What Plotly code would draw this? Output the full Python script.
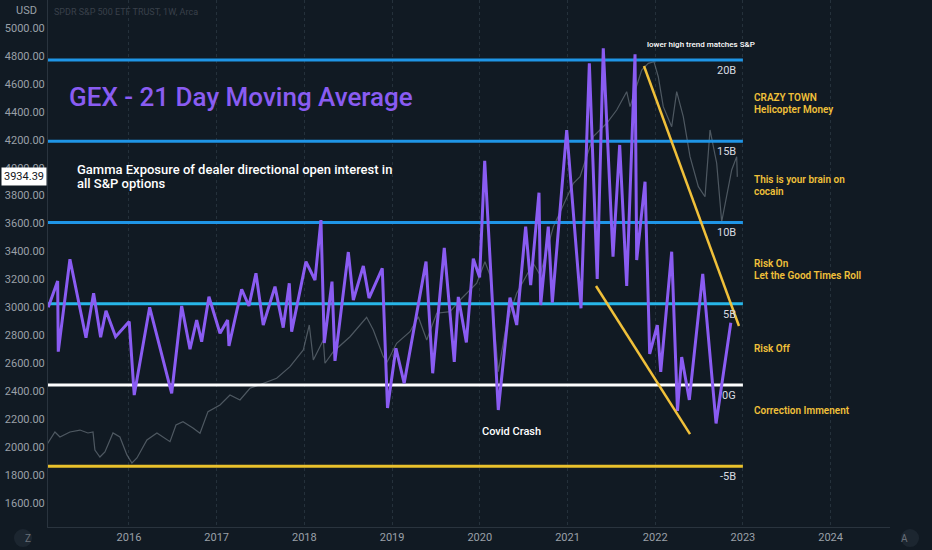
import plotly.graph_objects as go

# purple GEX line, 21 day moving average, in billions (decimal years on x)
gex_years = [2015.080, 2015.187, 2015.194, 2015.327, 2015.510, 2015.597, 2015.677, 2015.738, 2015.848, 2016.003,
             2016.060, 2016.236, 2016.487, 2016.601, 2016.696, 2016.772, 2016.829, 2016.912, 2017.038, 2017.125,
             2017.140, 2017.285, 2017.368, 2017.448, 2017.531, 2017.665, 2017.759, 2017.828, 2017.855, 2018.018,
             2018.121, 2018.189, 2018.227, 2018.315, 2018.349, 2018.501, 2018.558, 2018.672, 2018.737, 2018.888,
             2018.948, 2019.044, 2019.138, 2019.387, 2019.463, 2019.595, 2019.709, 2019.755, 2019.847, 2019.926,
             2019.998, 2020.056, 2020.211, 2020.344, 2020.421, 2020.523, 2020.580, 2020.675, 2020.694, 2020.781,
             2020.827, 2020.991, 2021.154, 2021.249, 2021.339, 2021.408, 2021.519, 2021.595, 2021.675, 2021.770,
             2021.789, 2021.884, 2021.937, 2022.024, 2022.063, 2022.188, 2022.254, 2022.302, 2022.389, 2022.542,
             2022.694, 2022.862]
gex_bn = [4.78, 6.40, 2.05, 7.74, 2.91, 5.64, 2.94, 4.57, 2.97, 3.90,
          -0.62, 4.78, -0.51, 4.86, 2.20, 4.00, 2.66, 5.43, 3.18, 4.00,
          2.40, 5.89, 4.86, 6.87, 3.69, 6.05, 3.53, 6.26, 3.28, 7.59,
          6.46, 10.15, 2.58, 6.36, 1.48, 8.18, 5.23, 7.32, 5.35, 7.18,
          -1.42, 2.26, 0.10, 7.60, 0.72, 8.43, 1.42, 5.42, 2.62, 7.77,
          6.62, 13.80, -1.54, 5.38, 3.69, 9.74, 6.15, 11.83, 4.92, 9.74,
          5.06, 15.69, 4.72, 19.80, 6.52, 20.72, 7.90, 14.77, 6.09, 20.35,
          7.69, 12.51, 1.91, 3.69, 0.80, 8.20, -1.60, 1.72, -0.92, 6.83,
          -2.37, 3.83]

# grey S&P price line (left scale)
spx_years = [2015.073, 2015.156, 2015.213, 2015.327, 2015.441, 2015.532, 2015.590, 2015.612, 2015.669, 2015.726,
             2015.818, 2015.897, 2015.977, 2016.034, 2016.091, 2016.205, 2016.319, 2016.433, 2016.468, 2016.536,
             2016.616, 2016.730, 2016.810, 2016.901, 2017.038, 2017.152, 2017.266, 2017.380, 2017.570, 2017.684,
             2017.836, 2017.988, 2018.056, 2018.102, 2018.216, 2018.235, 2018.330, 2018.520, 2018.710, 2018.786,
             2018.900, 2018.945, 2019.052, 2019.204, 2019.299, 2019.395, 2019.509, 2019.661, 2019.775, 2019.965,
             2020.059, 2020.116, 2020.211, 2020.307, 2020.421, 2020.535, 2020.610, 2020.687, 2020.839, 2021.067,
             2021.143, 2021.294, 2021.447, 2021.561, 2021.675, 2021.713, 2021.846, 2021.921, 2021.986, 2022.035,
             2022.092, 2022.188, 2022.245, 2022.320, 2022.397, 2022.492, 2022.568, 2022.625, 2022.701, 2022.758,
             2022.815, 2022.872, 2022.929, 2022.936]
spx_close = [2027, 2108, 2072, 2108, 2122, 2101, 2108, 1979, 1929, 1965,
             2101, 2072, 1944, 1886, 1922, 2051, 2101, 2051, 2039, 2158,
             2182, 2137, 2099, 2254, 2301, 2373, 2337, 2421, 2469, 2493,
             2576, 2695, 2874, 2624, 2767, 2600, 2683, 2790, 2929, 2838,
             2647, 2611, 2743, 2826, 2933, 2767, 2958, 2969, 3053, 3173,
             3327, 3232, 2540, 2886, 3101, 3232, 3316, 3232, 3578, 3888,
             3936, 4222, 4318, 4413, 4544, 4437, 4699, 4747, 4759, 4651,
             4437, 4293, 4544, 4365, 4079, 3864, 3792, 4270, 4032, 3613,
             3792, 3984, 4079, 3934.39]
last_price = 3934.39

# GEX levels drawn as horizontal rays
levels = [20, 15, 10, 5, 0, -5]
level_labels = ["20B", "15B", "10B", "5B", "0G", "-5B"]
level_colors = ["#1f95e6", "#1f95e6", "#1f95e6", "#27b6e8", "#ffffff", "#e9c12c"]
level_end = 2023.0

# yellow trend lines
trend_hi_x = [2021.872, 2022.955]
trend_hi_y = [19.63, 3.63]
trend_lo_x = [2021.325, 2022.397]
trend_lo_y = [6.09, -3.02]

# zone notes on the right, one entry per text line
zone_lines = ["CRAZY TOWN", "Helicopter Money", "This is your brain on", "cocain",
              "Risk On", "Let the Good Times Roll", "Risk Off", "Correction Immenent"]
zone_line_y = [17.72, 16.98, 12.62, 11.88, 7.45, 6.71, 2.22, -1.6]

subtitle_lines = ["Gamma Exposure of dealer directional open interest in", "all S&P options"]
subtitle_y = [13.29, 12.37]

x_range = [2015.077, 2024.677]
bg = "#111a23"
grid = "#25313b"
tick_grey = "#9aa0a8"
purple = "#8a5cf2"
yellow = "#f0c03a"

fig = go.Figure()

fig.add_trace(go.Scatter(x=spx_years, y=spx_close, mode="lines", yaxis="y",
                         line=dict(color="rgba(130,140,150,0.55)", width=1.2),
                         hoverinfo="skip", showlegend=False))

for lvl, col in zip(levels, level_colors):
    fig.add_trace(go.Scatter(x=[x_range[0], level_end], y=[lvl, lvl], mode="lines", yaxis="y3",
                             line=dict(color=col, width=3), hoverinfo="skip", showlegend=False))

fig.add_trace(go.Scatter(x=gex_years, y=gex_bn, mode="lines", yaxis="y3",
                         line=dict(color=purple, width=3), showlegend=False))

for tx, ty in [(trend_hi_x, trend_hi_y), (trend_lo_x, trend_lo_y)]:
    fig.add_trace(go.Scatter(x=tx, y=ty, mode="lines", yaxis="y3",
                             line=dict(color=yellow, width=2.5), hoverinfo="skip", showlegend=False))

ann = []
for lvl, lab in zip(levels, level_labels):
    ann.append(dict(x=level_end - 0.06, y=lvl, xref="x", yref="y3", text=lab, showarrow=False,
                    xanchor="right", yanchor="top", yshift=-2,
                    font=dict(family="Roboto", size=11, color="#d8dbe0")))

for txt, ty in zip(zone_lines, zone_line_y):
    ann.append(dict(x=2023.12, y=ty, xref="x", yref="y3", text=txt, showarrow=False,
                    xanchor="left", yanchor="middle", align="left", borderpad=0,
                    font=dict(family="Roboto", size=10, color=yellow, weight=600)))

ann.append(dict(x=2015.29, y=17.7, xref="x", yref="y3", text="GEX - 21 Day Moving Average",
                showarrow=False, xanchor="left", yanchor="middle",
                font=dict(family="Roboto", size=26, color=purple, weight=500)))
for txt, ty in zip(subtitle_lines, subtitle_y):
    ann.append(dict(x=2015.40, y=ty, xref="x", yref="y3", text=txt,
                    showarrow=False, xanchor="left", yanchor="middle", align="left", borderpad=0,
                    font=dict(family="Roboto", size=13, color="#ffffff", weight=500)))
ann.append(dict(x=2020.356, y=-2.89, xref="x", yref="y3", text="Covid Crash", showarrow=False,
                font=dict(family="Roboto", size=11, color="#ffffff", weight=500)))
ann.append(dict(x=2022.522, y=20.98, xref="x", yref="y3", text="lower high trend matches S&P",
                showarrow=False, font=dict(family="Roboto", size=8, color="#ffffff", weight=500)))

# chrome: currency, symbol, last price, scale buttons
ann.append(dict(x=-0.04, y=0.981, xref="paper", yref="paper", text="USD", showarrow=False,
                yanchor="middle", font=dict(family="Roboto", size=11, color=tick_grey)))
ann.append(dict(x=0.005, y=0.977, xref="paper", yref="paper", text="SPDR S&P 500 ETF TRUST, 1W, Arca",
                showarrow=False, xanchor="left", yanchor="middle",
                font=dict(family="Roboto", size=9, color="#39404a")))
ann.append(dict(x=-0.001, y=last_price, xref="paper", yref="y", text=f"{last_price:.2f}", showarrow=False,
                xanchor="right", bgcolor="#ffffff", borderpad=2,
                font=dict(family="Roboto", size=11, color="#131722")))
ann.append(dict(x=-0.0297, y=-0.0209, xref="paper", yref="paper", text="Z", showarrow=False,
                yanchor="middle", font=dict(family="Roboto", size=10, color="#6a7079")))
ann.append(dict(x=1.0238, y=-0.0209, xref="paper", yref="paper", text="A", showarrow=False,
                yanchor="middle", font=dict(family="Roboto", size=10, color="#6a7079")))

shapes = [
    dict(type="circle", xref="paper", yref="paper", x0=-0.0404, x1=-0.019, y0=-0.038, y1=-0.004,
         fillcolor="#1c2630", line=dict(width=0), layer="below"),
    dict(type="circle", xref="paper", yref="paper", x0=1.013, x1=1.0345, y0=-0.038, y1=-0.004,
         fillcolor="#1c2630", line=dict(width=0), layer="below"),
]

fig.update_layout(
    width=932, height=550,
    margin=dict(l=48, r=42, t=0, b=23),
    paper_bgcolor=bg, plot_bgcolor=bg,
    font=dict(family="Roboto", color=tick_grey),
    showlegend=False,
    annotations=ann,
    shapes=shapes,
    xaxis=dict(range=x_range, tickmode="linear", tick0=2016, dtick=1, tickformat="d",
               showgrid=True, griddash="dot", gridcolor=grid, zeroline=False,
               showline=True, linecolor="#2a343e", ticks="", tickfont=dict(size=11, color=tick_grey)),
    yaxis=dict(range=[1428, 5200.4], tickmode="linear", tick0=1600, dtick=200, tickformat=".2f",
               showgrid=False, zeroline=False, showline=True, linecolor="#2a343e", ticks="",
               tickfont=dict(size=11, color=tick_grey)),
    yaxis2=dict(range=[21.8, 555.4], overlaying="y", side="right", tickmode="linear", tick0=40, dtick=40,
                tickformat=".2f", showgrid=True, griddash="dot", gridcolor=grid, zeroline=False,
                showline=True, linecolor="#2a343e", ticks="", tickfont=dict(size=11, color=tick_grey)),
    yaxis3=dict(range=[-8.74, 23.69], overlaying="y", visible=False),
)

fig.write_html("out.html", config={"displayModeBar": False},
               post_script="document.body.style.margin='0px';document.body.style.overflow='hidden';")
